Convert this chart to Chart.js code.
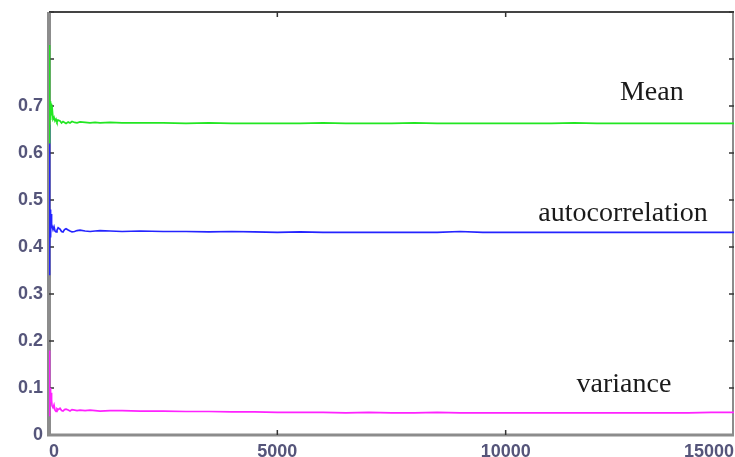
<!DOCTYPE html>
<html>
<head>
<meta charset="utf-8">
<script src="https://cdn.jsdelivr.net/npm/chart.js@4/dist/chart.umd.min.js"></script>
<style>
  body { margin: 0; background: #fff; }
  canvas { display: block; }
</style>
</head>
<body>
<canvas id="Graph" width="735" height="457"></canvas>
<script>
// iteration number (x) shared by all three running estimates
var steps = [0, 4, 8, 12, 16, 20, 26, 34, 44, 56, 66, 88, 110, 132, 154, 175, 200, 241, 275, 307,
  340, 373, 420, 460, 504, 560, 614, 680, 790, 900, 1009, 1118, 1338, 1600, 2000, 2500, 3000, 3500,
  4000, 4500, 5000, 5500, 6000, 6500, 7000, 7500, 8000, 8500, 9000, 9500, 10000, 10500, 11000,
  11500, 12000, 12500, 13000, 13500, 14000, 14500, 15000];

var meanVals = [0.83, 0.62, 0.78, 0.64, 0.74, 0.66, 0.71, 0.67, 0.705, 0.68, 0.70, 0.672, 0.676, 0.668,
  0.672, 0.666, 0.670, 0.668, 0.664, 0.667, 0.665, 0.663, 0.666, 0.664, 0.667, 0.665, 0.664, 0.666,
  0.665, 0.664, 0.665, 0.664, 0.665, 0.664, 0.664, 0.664, 0.663, 0.664, 0.663, 0.663, 0.663, 0.663,
  0.664, 0.663, 0.663, 0.663, 0.664, 0.663, 0.663, 0.663, 0.663, 0.663, 0.663, 0.664, 0.663, 0.663,
  0.663, 0.663, 0.663, 0.663, 0.663];

var autocorrVals = [0.66, 0.34, 0.55, 0.38, 0.50, 0.40, 0.48, 0.42, 0.47, 0.44, 0.445, 0.437, 0.443,
  0.434, 0.432, 0.436, 0.441, 0.438, 0.433, 0.432, 0.437, 0.439, 0.436, 0.434, 0.432, 0.433, 0.435,
  0.436, 0.434, 0.433, 0.434, 0.435, 0.434, 0.433, 0.434, 0.433, 0.433, 0.432, 0.433, 0.432, 0.431,
  0.432, 0.431, 0.431, 0.431, 0.431, 0.431, 0.431, 0.433, 0.431, 0.431, 0.431, 0.431, 0.431, 0.431,
  0.431, 0.431, 0.431, 0.431, 0.431, 0.431];

var varianceVals = [0.18, 0.04, 0.14, 0.05, 0.11, 0.06, 0.10, 0.07, 0.09, 0.075, 0.062, 0.058, 0.064,
  0.053, 0.050, 0.056, 0.054, 0.057, 0.052, 0.051, 0.054, 0.055, 0.053, 0.051, 0.054, 0.053, 0.052,
  0.053, 0.052, 0.053, 0.052, 0.051, 0.052, 0.052, 0.051, 0.051, 0.050, 0.050, 0.049, 0.049, 0.048,
  0.048, 0.048, 0.047, 0.048, 0.047, 0.047, 0.048, 0.047, 0.047, 0.047, 0.047, 0.047, 0.047, 0.047,
  0.047, 0.047, 0.047, 0.047, 0.048, 0.048];

var seriesNames = ['Mean', 'autocorrelation', 'variance'];
var seriesColors = ['#22e622', '#2424ff', '#ff22ff'];
// where each series name is written (data coords)
var nameX = [13200, 12570, 12590];
var nameY = [0.729, 0.470, 0.108];

var xTicks = [0, 5000, 10000, 15000];
var yTicks = [0, 0.1, 0.2, 0.3, 0.4, 0.5, 0.6, 0.7, 0.8, 0.9];

function toPoints(vals) {
  return steps.map(function (s, i) { return { x: s, y: vals[i] }; });
}

// box + inward tick marks, drawn under the data
var framePlugin = {
  id: 'frame',
  beforeDatasetsDraw: function (chart) {
    var ctx = chart.ctx, a = chart.chartArea;
    var xs = chart.scales.x, ys = chart.scales.y;
    ctx.save();
    ctx.strokeStyle = '#444';
    ctx.lineWidth = 2;
    ctx.beginPath();
    ctx.moveTo(a.left, a.top); ctx.lineTo(a.right, a.top);
    ctx.stroke();
    ctx.strokeStyle = '#666';
    ctx.lineWidth = 1.5;
    ctx.beginPath();
    ctx.moveTo(a.right - 1, a.top); ctx.lineTo(a.right - 1, a.bottom);
    ctx.stroke();
    ctx.strokeStyle = '#8c8c8c';
    ctx.lineWidth = 4;
    ctx.beginPath();
    ctx.moveTo(a.left, a.top); ctx.lineTo(a.left, a.bottom);
    ctx.stroke();
    ctx.lineWidth = 3;
    ctx.beginPath();
    ctx.moveTo(a.left - 2, a.bottom); ctx.lineTo(a.right, a.bottom);
    ctx.stroke();
    ctx.strokeStyle = '#333';
    ctx.lineWidth = 1.5;
    yTicks.forEach(function (v) {
      var py = ys.getPixelForValue(v);
      if (v === 0) return;
      ctx.beginPath();
      ctx.moveTo(a.left, py); ctx.lineTo(a.left + 5, py);
      ctx.moveTo(a.right, py); ctx.lineTo(a.right - 5, py);
      ctx.stroke();
    });
    xTicks.forEach(function (v) {
      var px = xs.getPixelForValue(v);
      if (v === 0 || v === 15000) return;
      ctx.beginPath();
      ctx.moveTo(px, a.bottom); ctx.lineTo(px, a.bottom - 5);
      ctx.moveTo(px, a.top); ctx.lineTo(px, a.top + 5);
      ctx.stroke();
    });
    ctx.restore();
  },
  afterDraw: function (chart) {
    var ctx = chart.ctx;
    var xs = chart.scales.x, ys = chart.scales.y;
    ctx.save();
    ctx.fillStyle = '#1a1a1a';
    ctx.font = '28px "Liberation Serif", "Times New Roman", serif';
    ctx.textAlign = 'center';
    ctx.textBaseline = 'middle';
    seriesNames.forEach(function (n, i) {
      ctx.fillText(n, xs.getPixelForValue(nameX[i]), ys.getPixelForValue(nameY[i]));
    });
    ctx.restore();
  }
};

var tickFont = { family: '"Liberation Sans", Arial, sans-serif', size: 18, weight: 'bold' };

var ctx2d = document.getElementById('Graph').getContext('2d');
var chart = new Chart(ctx2d, {
  type: 'line',
  data: {
    datasets: [
      { label: seriesNames[0], data: toPoints(meanVals), borderColor: seriesColors[0] },
      { label: seriesNames[1], data: toPoints(autocorrVals), borderColor: seriesColors[1] },
      { label: seriesNames[2], data: toPoints(varianceVals), borderColor: seriesColors[2] }
    ]
  },
  options: {
    responsive: false,
    animation: false,
    layout: { padding: { top: 12, right: 1, left: 0, bottom: 0 } },
    elements: {
      line: { borderWidth: 1.7, tension: 0 },
      point: { radius: 0 }
    },
    plugins: { legend: { display: false }, tooltip: { enabled: false } },
    scales: {
      x: {
        type: 'linear',
        min: 0,
        max: 15000,
        border: { display: false },
        grid: { display: false, drawTicks: false },
        afterBuildTicks: function (s) { s.ticks = xTicks.map(function (v) { return { value: v }; }); },
        afterFit: function (s) { s.height = 22; s.paddingLeft = 0; s.paddingRight = 0; },
        ticks: {
          align: 'inner',
          padding: 6,
          maxRotation: 0,
          color: '#55557a',
          font: tickFont,
          callback: function (v) { return String(v); }
        }
      },
      y: {
        min: 0,
        max: 0.9,
        border: { display: false },
        grid: { display: false, drawTicks: false },
        afterBuildTicks: function (s) { s.ticks = yTicks.map(function (v) { return { value: v }; }); },
        afterFit: function (s) { s.width = 49; s.paddingTop = 0; s.paddingBottom = 0; },
        ticks: {
          padding: 6,
          color: '#55557a',
          font: tickFont,
          callback: function (v) { return v > 0.75 ? '' : (v === 0 ? '0' : v.toFixed(1)); }
        }
      }
    }
  },
  plugins: [framePlugin]
});
</script>
</body>
</html>
